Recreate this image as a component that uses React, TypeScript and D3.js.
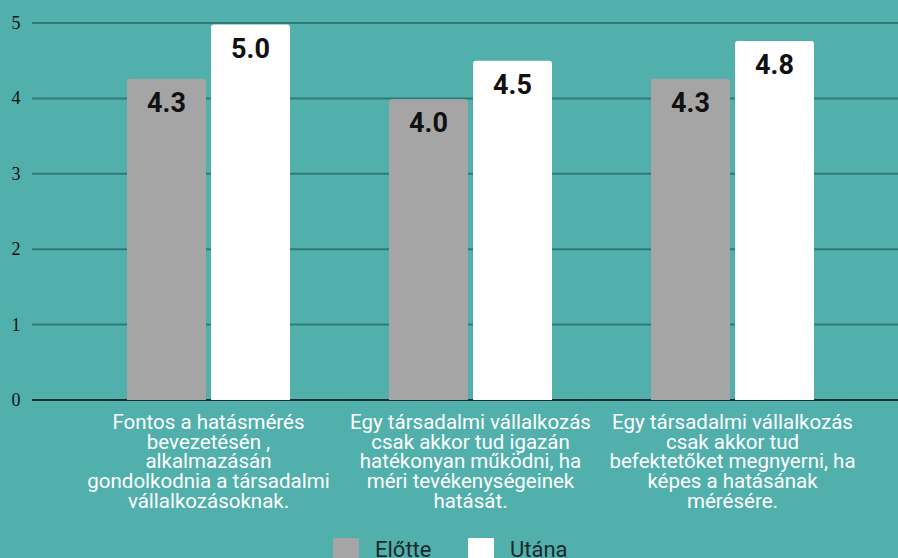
import React from 'react'
import * as d3 from 'd3'

const categories = [
  ['Fontos a hatásmérés', 'bevezetésén ,', 'alkalmazásán', 'gondolkodnia a társadalmi', 'vállalkozásoknak.'],
  ['Egy társadalmi vállalkozás', 'csak akkor tud igazán', 'hatékonyan működni, ha', 'méri tevékenységeinek', 'hatását.'],
  ['Egy társadalmi vállalkozás', 'csak akkor tud', 'befektetőket megnyerni, ha', 'képes a hatásának', 'mérésére.']
]
const seriesNames = ['Előtte', 'Utána']
const elotte = [4.26, 3.99, 4.26]
const utana = [4.98, 4.5, 4.76]
const yTicks = [0, 1, 2, 3, 4, 5]

const W = 898
const H = 558
const colors = ['#a5a5a5', '#ffffff']

function topRounded (x: number, y: number, w: number, h: number, r: number) {
  return `M${x},${y + h}V${y + r}Q${x},${y} ${x + r},${y}H${x + w - r}Q${x + w},${y} ${x + w},${y + r}V${y + h}Z`
}

export default function App () {
  const y = d3.scaleLinear().domain([0, 5]).range([400, 23])
  const x0 = d3.scaleBand<number>().domain(d3.range(categories.length)).range([77.5, 863.5]).padding(0)
  const x1 = d3.scaleBand<string>().domain(seriesNames).range([49.5, x0.bandwidth() - 49.5]).paddingInner(5 / 84).paddingOuter(0)
  const fmt = d3.format('.1f')
  const series = [elotte, utana]

  return (
    <svg width={W} height={H} style={{position: 'absolute', left: 0, top: 0, background: '#51b0ab'}}>
      <rect width={W} height={H} fill='#51b0ab' />
      {yTicks.map(t => (
        <g key={t}>
          <line x1={32} x2={W} y1={y(t)} y2={y(t)} stroke={t === 0 ? '#1a2e2d' : '#2e7a76'} strokeWidth={2} />
          <text x={16} y={y(t) + 6} textAnchor='middle' fontFamily='"Liberation Serif", serif' fontSize={18} fill='#111'>{t}</text>
        </g>
      ))}
      {categories.map((lines, i) => (
        <g key={i} transform={`translate(${x0(i)},0)`}>
          {series.map((vals, s) => {
            const bx = x1(seriesNames[s]) as number
            const bw = x1.bandwidth()
            const top = y(vals[i])
            return (
              <g key={s}>
                <path d={topRounded(bx, top, bw, y(0) - top, 3)} fill={colors[s]} />
                <text x={bx + bw / 2} y={top + 33} textAnchor='middle' fontFamily='Roboto, sans-serif' fontWeight='bold' fontSize={27} fill='#111'>{fmt(vals[i])}</text>
              </g>
            )
          })}
          <text textAnchor='middle' fontFamily='Roboto, sans-serif' fontSize={20.5} fill='#ffffff'>
            {lines.map((l, k) => (
              <tspan key={k} x={x0.bandwidth() / 2} y={429 + k * 19.7}>{l}</tspan>
            ))}
          </text>
        </g>
      ))}
      {seriesNames.map((n, s) => (
        <g key={n} transform={`translate(${333 + s * 135},538)`}>
          <rect width={26} height={26} fill={colors[s]} rx={1} />
          <text x={42} y={18.5} fontFamily='Roboto, sans-serif' fontSize={22} fill='#1d2b2a'>{n}</text>
        </g>
      ))}
    </svg>
  )
}
